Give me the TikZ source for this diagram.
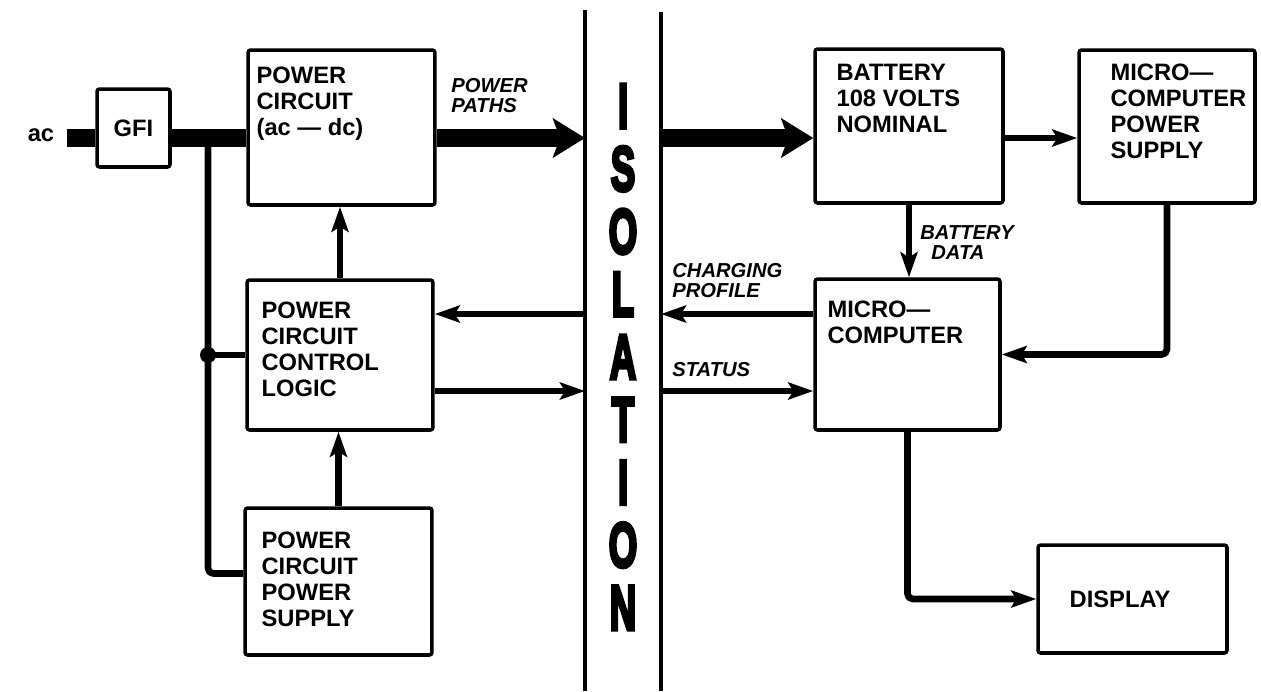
\documentclass[tikz,border=0pt]{standalone}
\usepackage{fontspec}
\setmainfont{Liberation Sans}
\newfontfamily\isofont[FakeBold=6,UprightFont={* Bold}]{Liberation Sans}
\usepackage{graphicx}
\usetikzlibrary{positioning,arrows.meta}

\newcommand{\isochar}[1]{\scalebox{0.58}[1]{#1}}

\tikzset{
  blk/.style={draw,line width=2pt,rounded corners=1.5pt,inner sep=0pt,
    font=\bfseries\fontsize{13.5}{14.8}\selectfont},
  blktxt/.style={inner sep=0pt,align=left,font=\bfseries\fontsize{13.5}{14.8}\selectfont},
  lbl/.style={inner sep=0pt,align=left,anchor=north west,
    font=\bfseries\itshape\fontsize{11.5}{11.5}\selectfont},
  heavy/.style={line width=10pt},
  wire/.style={line width=3.8pt,line join=round,rounded corners=3pt},
  bigtip/.style={-{Stealth[length=0.64cm,width=0.78cm,inset=0.14cm]}},
  tip/.style={-{Stealth[length=0.5cm,width=0.34cm,inset=0.1cm]}},
  isoline/.style={line width=1.8pt}
}

\begin{document}
\begin{tikzpicture}[x=0.02cm,y=-0.02cm]
  \useasboundingbox (0,0) rectangle (1261,691);

  % blocks
  \node[blk,minimum width=1.46cm,minimum height=1.56cm] (gfi) at (133.5,128) {GFI};
  \node[blk,minimum width=3.74cm,minimum height=3.10cm] (pc) at (341.5,127.5) {};
  \node[blk,minimum width=3.72cm,minimum height=3.00cm] (cl) at (340,355) {};
  \node[blk,minimum width=3.74cm,minimum height=2.94cm] (ps) at (338.5,581.5) {};
  \node[blk,minimum width=3.76cm,minimum height=3.08cm] (bat) at (909,126) {};
  \node[blk,minimum width=3.52cm,minimum height=3.06cm] (mps) at (1167,126.5) {};
  \node[blk,minimum width=3.70cm,minimum height=3.02cm] (mc) at (907.5,354.5) {};
  \node[blk,minimum width=3.78cm,minimum height=2.16cm] (dsp) at (1132.5,599) {\hspace*{-0.5cm}DISPLAY};

  % block texts
  \node[blktxt,below right=0.36cm and 0.2cm of pc.north west] (pc-t) {POWER\\CIRCUIT\\(ac --- dc)};
  \node[blktxt,below right=0.46cm and 0.32cm of cl.north west] (cl-t) {POWER\\CIRCUIT\\CONTROL\\LOGIC};
  \node[blktxt,below right=0.5cm and 0.36cm of ps.north west] (ps-t) {POWER\\CIRCUIT\\POWER\\SUPPLY};
  \node[blktxt,below right=0.34cm and 0.46cm of bat.north west] (bat-t) {BATTERY\\108 VOLTS\\NOMINAL};
  \node[blktxt,below right=0.3cm and 0.66cm of mps.north west] (mps-t) {MICRO---\\COMPUTER\\POWER\\SUPPLY};
  \node[blktxt,below right=0.46cm and 0.28cm of mc.north west] (mc-t) {MICRO---\\COMPUTER};

  \node[blktxt] (ac) at (41,135) {ac};

  % isolation barrier
  \coordinate (isoLt) at (585,10);
  \coordinate (isoLb) at (585,691);
  \coordinate (isoRt) at (661,12);
  \coordinate (isoRb) at (661,691);
  \draw[isoline] (isoLt) -- (isoLb);
  \draw[isoline] (isoRt) -- (isoRb);
  \node[inner sep=0pt,align=center,font=\isofont\fontsize{36}{35.7}\selectfont] (iso) at (623,357)
    {\isochar{I}\\\isochar{S}\\\isochar{O}\\\isochar{L}\\\isochar{A}\\\isochar{T}\\\isochar{I}\\\isochar{O}\\\isochar{N}};

  % labels
  \node[lbl] (pp) at (451,78) {POWER\\PATHS};
  \node[lbl] (bd) at (920,225) {BATTERY\\\hspace*{0.22cm}DATA};
  \node[lbl] (cp) at (672,263) {CHARGING\\PROFILE};
  \node[lbl] (st) at (672,362) {STATUS};

  \coordinate (bus) at (208,138);
  \coordinate (chg) at (0,314);
  \coordinate (sts) at (0,391);

  % power paths
  \draw[heavy] ([xshift=0.24cm]ac.east |- bus) -- (gfi.west |- bus);
  \draw[heavy] (gfi.east |- bus) -- (pc.west |- bus);
  \draw[heavy,bigtip] (pc.east |- bus) -- (isoLt |- bus);
  \draw[heavy,bigtip] (isoRt |- bus) -- (bat.west |- bus);
  \fill (bus) circle (8);

  % left side
  \draw[wire] (bus) |- ([yshift=0.16cm]ps.west);
  \fill (bus |- cl.west) circle (8);
  \draw[wire] (bus |- cl.west) -- (cl.west);
  \draw[wire,tip] (cl.north) -- (cl.north |- pc.south);
  \draw[wire,tip] (ps.north) -- (ps.north |- cl.south);
  \draw[wire,tip] (isoLt |- chg) -- (cl.east |- chg);
  \draw[wire,tip] (cl.east |- sts) -- (isoLt |- sts);

  % right side
  \draw[wire,tip] (mc.west |- chg) -- (isoRt |- chg);
  \draw[wire,tip] (isoRt |- sts) -- (mc.west |- sts);
  \draw[wire,tip] (bat.east |- bus) -- (mps.west |- bus);
  \draw[wire,tip] (bat.south) -- (bat.south |- mc.north);
  \draw[wire,tip] (mps.south) |- (mc.east);
  \draw[wire,tip] (mc.south) |- (dsp.west);
\end{tikzpicture}
\end{document}
